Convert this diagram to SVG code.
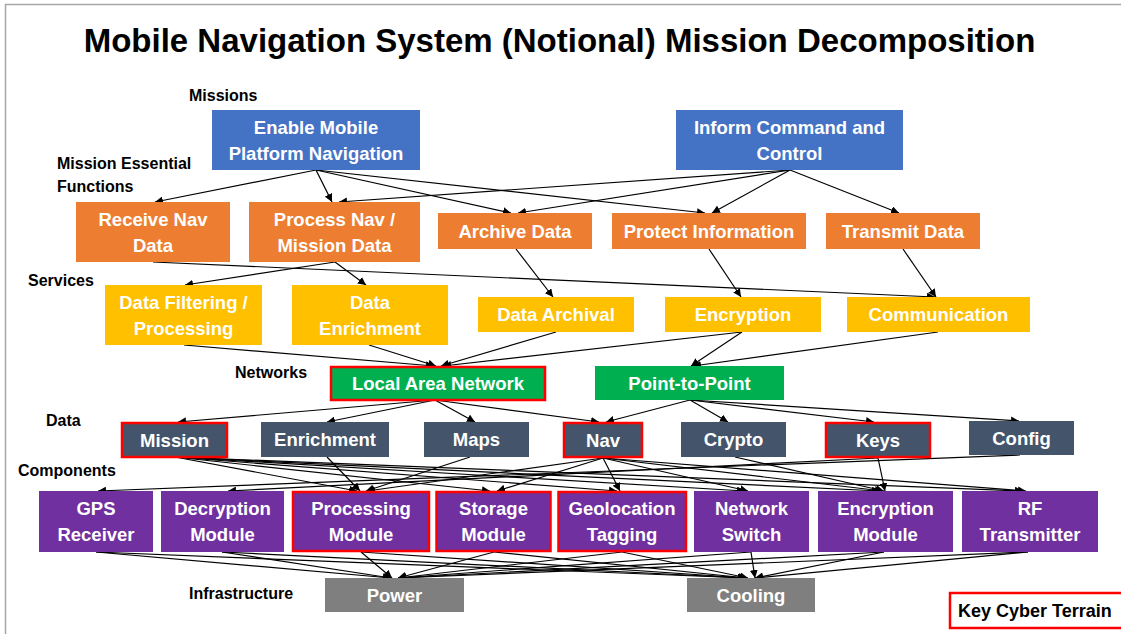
<svg xmlns="http://www.w3.org/2000/svg" width="1121" height="634" viewBox="0 0 1121 634">
  <defs>
    <marker id="arrow" markerUnits="userSpaceOnUse" markerWidth="10" markerHeight="8" refX="8" refY="4" orient="auto">
      <path d="M0,0 L8,4 L0,8 Z" fill="#000"/>
    </marker>
    <style>
      .lbl { font-family: "Liberation Sans", Arial, sans-serif; font-weight: bold; font-size: 16px; fill: #000; }
      .title { font-family: "Liberation Sans", Arial, sans-serif; font-weight: bold; font-size: 33px; fill: #000; text-anchor: middle; }
      .nt { font-family: "Liberation Sans", Arial, sans-serif; font-weight: bold; font-size: 18.5px; fill: #fff; text-anchor: middle; }
      .mission { fill: #4472C4; }
      .mef { fill: #ED7D31; }
      .svc { fill: #FFC000; }
      .net { fill: #00B050; }
      .data { fill: #44546A; }
      .comp { fill: #7030A0; }
      .infra { fill: #7F7F7F; }
      .kct { stroke: #FF0000; stroke-width: 2.5; }
      .edge line { stroke: #000; stroke-width: 1.2; marker-end: url(#arrow); }
    </style>
  </defs>

  <rect width="1121" height="634" fill="#fff"/>
  <!-- page frame -->
  <path d="M5.5,640 L5.5,4.5 L1130,4.5" fill="none" stroke="#A6A6A6" stroke-width="1.5"/>

  <text class="title" x="559.5" y="52">Mobile Navigation System (Notional) Mission Decomposition</text>

  <!-- tier labels -->
  <g id="tier-labels">
    <text class="lbl" x="189" y="101">Missions</text>
    <text class="lbl" x="57" y="169">Mission Essential</text>
    <text class="lbl" x="57" y="192">Functions</text>
    <text class="lbl" x="28" y="286">Services</text>
    <text class="lbl" x="235" y="378">Networks</text>
    <text class="lbl" x="46" y="426">Data</text>
    <text class="lbl" x="18" y="476">Components</text>
    <text class="lbl" x="189" y="599">Infrastructure</text>
  </g>

  <!-- connectors -->
  <g id="connectors" class="edge">
    <!-- missions to mission essential functions -->
    <line x1="316" y1="170" x2="155" y2="202"/>
    <line x1="316" y1="170" x2="332" y2="202"/>
    <line x1="316" y1="170" x2="511" y2="213"/>
    <line x1="316" y1="170" x2="705" y2="213"/>
    <line x1="790" y1="170" x2="339" y2="202"/>
    <line x1="790" y1="170" x2="518" y2="213"/>
    <line x1="790" y1="170" x2="712" y2="213"/>
    <line x1="790" y1="170" x2="899" y2="213"/>
    <!-- functions to services -->
    <line x1="153" y1="262" x2="935" y2="297"/>
    <line x1="335" y1="262" x2="185" y2="285"/>
    <line x1="335" y1="262" x2="366" y2="285"/>
    <line x1="516" y1="249" x2="553" y2="297"/>
    <line x1="709" y1="249" x2="741" y2="297"/>
    <line x1="903" y1="249" x2="936" y2="297"/>
    <!-- services to networks -->
    <line x1="184" y1="345" x2="434" y2="366"/>
    <line x1="369" y1="345" x2="436" y2="366"/>
    <line x1="556" y1="332" x2="441" y2="366"/>
    <line x1="742" y1="332" x2="443" y2="366"/>
    <line x1="742" y1="332" x2="691" y2="366"/>
    <line x1="938" y1="332" x2="693" y2="366"/>
    <!-- networks to data -->
    <line x1="435" y1="400" x2="178" y2="422"/>
    <line x1="435" y1="400" x2="327" y2="422"/>
    <line x1="435" y1="400" x2="475" y2="422"/>
    <line x1="435" y1="400" x2="599" y2="422"/>
    <line x1="690" y1="400" x2="606" y2="422"/>
    <line x1="690" y1="400" x2="728" y2="422"/>
    <line x1="690" y1="400" x2="874" y2="422"/>
    <line x1="690" y1="400" x2="1019" y2="421"/>
    <!-- data to components -->
    <line x1="175" y1="457" x2="357" y2="491"/>
    <line x1="175" y1="457" x2="490" y2="491"/>
    <line x1="175" y1="457" x2="617" y2="491"/>
    <line x1="175" y1="457" x2="745" y2="491"/>
    <line x1="175" y1="457" x2="880" y2="491"/>
    <line x1="175" y1="457" x2="1023" y2="491"/>
    <line x1="327" y1="457" x2="360" y2="491"/>
    <line x1="470" y1="457" x2="366" y2="491"/>
    <line x1="603" y1="458" x2="367" y2="491"/>
    <line x1="603" y1="458" x2="497" y2="491"/>
    <line x1="603" y1="458" x2="620" y2="491"/>
    <line x1="603" y1="458" x2="748" y2="491"/>
    <line x1="603" y1="458" x2="883" y2="491"/>
    <line x1="603" y1="458" x2="1026" y2="491"/>
    <line x1="735" y1="457" x2="884" y2="491"/>
    <line x1="878" y1="458" x2="228" y2="491"/>
    <line x1="878" y1="458" x2="885" y2="491"/>
    <line x1="1020" y1="455" x2="98" y2="491"/>
    <!-- components to infrastructure -->
    <line x1="96" y1="552" x2="391" y2="578"/>
    <line x1="96" y1="552" x2="746" y2="578"/>
    <line x1="222" y1="552" x2="391" y2="578"/>
    <line x1="222" y1="552" x2="746" y2="578"/>
    <line x1="361" y1="552" x2="392" y2="578"/>
    <line x1="361" y1="552" x2="747" y2="578"/>
    <line x1="494" y1="552" x2="398" y2="578"/>
    <line x1="494" y1="552" x2="747" y2="578"/>
    <line x1="622" y1="552" x2="398" y2="578"/>
    <line x1="622" y1="552" x2="748" y2="578"/>
    <line x1="751" y1="552" x2="398" y2="578"/>
    <line x1="751" y1="552" x2="755" y2="578"/>
    <line x1="884" y1="552" x2="398" y2="578"/>
    <line x1="884" y1="552" x2="755" y2="578"/>
    <line x1="1028" y1="552" x2="398" y2="578"/>
    <line x1="1028" y1="552" x2="755" y2="578"/>
  </g>

  <!-- missions -->
  <g id="enable-mobile-platform-navigation">
    <rect class="mission" x="212" y="110" width="208" height="60"/>
    <text class="nt" x="316" y="133.5">Enable Mobile</text>
    <text class="nt" x="316" y="159.5">Platform Navigation</text>
  </g>
  <g id="inform-command-and-control">
    <rect class="mission" x="676" y="110" width="227" height="60"/>
    <text class="nt" x="789.5" y="133.5">Inform Command and</text>
    <text class="nt" x="789.5" y="159.5">Control</text>
  </g>

  <!-- mission essential functions -->
  <g id="receive-nav-data">
    <rect class="mef" x="76" y="202" width="154" height="60"/>
    <text class="nt" x="153" y="225.5">Receive Nav</text>
    <text class="nt" x="153" y="251.5">Data</text>
  </g>
  <g id="process-nav-mission-data">
    <rect class="mef" x="249" y="202" width="171" height="60"/>
    <text class="nt" x="334.5" y="225.5">Process Nav /</text>
    <text class="nt" x="334.5" y="251.5">Mission Data</text>
  </g>
  <g id="archive-data">
    <rect class="mef" x="438" y="213" width="154" height="36"/>
    <text class="nt" x="515" y="237.5">Archive Data</text>
  </g>
  <g id="protect-information">
    <rect class="mef" x="612" y="213" width="194" height="36"/>
    <text class="nt" x="709" y="237.5">Protect Information</text>
  </g>
  <g id="transmit-data">
    <rect class="mef" x="826" y="213" width="154" height="36"/>
    <text class="nt" x="903" y="237.5">Transmit Data</text>
  </g>

  <!-- services -->
  <g id="data-filtering-processing">
    <rect class="svc" x="105" y="285" width="157" height="60"/>
    <text class="nt" x="183.5" y="308.5">Data Filtering /</text>
    <text class="nt" x="183.5" y="334.5">Processing</text>
  </g>
  <g id="data-enrichment">
    <rect class="svc" x="292" y="285" width="156" height="60"/>
    <text class="nt" x="370" y="308.5">Data</text>
    <text class="nt" x="370" y="334.5">Enrichment</text>
  </g>
  <g id="data-archival">
    <rect class="svc" x="478" y="297" width="156" height="35"/>
    <text class="nt" x="556" y="321">Data Archival</text>
  </g>
  <g id="encryption">
    <rect class="svc" x="665" y="297" width="156" height="35"/>
    <text class="nt" x="743" y="321">Encryption</text>
  </g>
  <g id="communication">
    <rect class="svc" x="847" y="297" width="183" height="35"/>
    <text class="nt" x="938.5" y="321">Communication</text>
  </g>

  <!-- networks -->
  <g id="local-area-network">
    <rect class="net kct" x="331" y="367" width="214" height="33"/>
    <text class="nt" x="438" y="390">Local Area Network</text>
  </g>
  <g id="point-to-point">
    <rect class="net" x="595" y="366" width="189" height="34"/>
    <text class="nt" x="689.5" y="390">Point-to-Point</text>
  </g>

  <!-- data -->
  <g id="mission">
    <rect class="data kct" x="122" y="423" width="105" height="34"/>
    <text class="nt" x="174.5" y="446.5">Mission</text>
  </g>
  <g id="enrichment">
    <rect class="data" x="261" y="422" width="128" height="35"/>
    <text class="nt" x="325" y="446">Enrichment</text>
  </g>
  <g id="maps">
    <rect class="data" x="424" y="422" width="105" height="35"/>
    <text class="nt" x="476.5" y="446">Maps</text>
  </g>
  <g id="nav">
    <rect class="data kct" x="564" y="423" width="78" height="34"/>
    <text class="nt" x="603" y="446.5">Nav</text>
  </g>
  <g id="crypto">
    <rect class="data" x="681" y="422" width="105" height="35"/>
    <text class="nt" x="733.5" y="446">Crypto</text>
  </g>
  <g id="keys">
    <rect class="data kct" x="826" y="423" width="104" height="34"/>
    <text class="nt" x="878" y="446.5">Keys</text>
  </g>
  <g id="config">
    <rect class="data" x="969" y="421" width="105" height="34"/>
    <text class="nt" x="1021.5" y="444.5">Config</text>
  </g>

  <!-- components -->
  <g id="gps-receiver">
    <rect class="comp" x="39" y="491" width="114" height="61"/>
    <text class="nt" x="96" y="515">GPS</text>
    <text class="nt" x="96" y="541">Receiver</text>
  </g>
  <g id="decryption-module">
    <rect class="comp" x="161" y="491" width="123" height="61"/>
    <text class="nt" x="222.5" y="515">Decryption</text>
    <text class="nt" x="222.5" y="541">Module</text>
  </g>
  <g id="processing-module">
    <rect class="comp kct" x="293" y="492" width="136" height="59"/>
    <text class="nt" x="361" y="515">Processing</text>
    <text class="nt" x="361" y="541">Module</text>
  </g>
  <g id="storage-module">
    <rect class="comp kct" x="436.5" y="492" width="114" height="59"/>
    <text class="nt" x="493.5" y="515">Storage</text>
    <text class="nt" x="493.5" y="541">Module</text>
  </g>
  <g id="geolocation-tagging">
    <rect class="comp kct" x="558.5" y="492" width="127.5" height="59"/>
    <text class="nt" x="622" y="515">Geolocation</text>
    <text class="nt" x="622" y="541">Tagging</text>
  </g>
  <g id="network-switch">
    <rect class="comp" x="694" y="491" width="115" height="61"/>
    <text class="nt" x="751.5" y="515">Network</text>
    <text class="nt" x="751.5" y="541">Switch</text>
  </g>
  <g id="encryption-module">
    <rect class="comp" x="818" y="491" width="135" height="61"/>
    <text class="nt" x="885.5" y="515">Encryption</text>
    <text class="nt" x="885.5" y="541">Module</text>
  </g>
  <g id="rf-transmitter">
    <rect class="comp" x="962" y="491" width="136" height="61"/>
    <text class="nt" x="1030" y="515">RF</text>
    <text class="nt" x="1030" y="541">Transmitter</text>
  </g>

  <!-- infrastructure -->
  <g id="power">
    <rect class="infra" x="325" y="578" width="139" height="34"/>
    <text class="nt" x="394.5" y="601.5">Power</text>
  </g>
  <g id="cooling">
    <rect class="infra" x="687" y="578" width="128" height="34"/>
    <text class="nt" x="751" y="601.5">Cooling</text>
  </g>

  <!-- legend -->
  <g id="legend">
    <rect x="950" y="593" width="180" height="35" fill="#fff" stroke="#FF0000" stroke-width="2.5"/>
    <text class="lbl" x="958" y="617" style="font-size:18px">Key Cyber Terrain</text>
  </g>
</svg>
